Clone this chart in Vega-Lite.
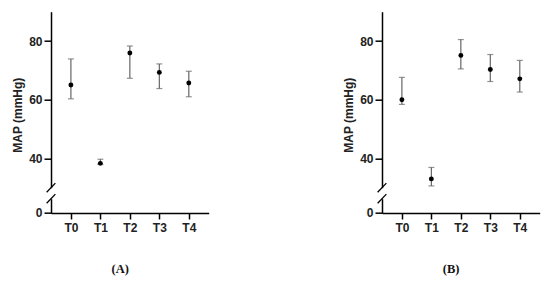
{
  "$schema": "https://vega.github.io/schema/vega-lite/v6.json",
  "padding": {"left": 11, "top": 11.7, "right": 5, "bottom": 5},
  "background": "white",
  "datasets": {
    "A": [
      {"time": "T0", "mean": 65.0, "lo": 60.3, "hi": 73.9},
      {"time": "T1", "mean": 38.3, "lo": 37.9, "hi": 39.7},
      {"time": "T2", "mean": 75.9, "lo": 67.3, "hi": 78.3},
      {"time": "T3", "mean": 69.3, "lo": 63.8, "hi": 72.2},
      {"time": "T4", "mean": 65.7, "lo": 61.0, "hi": 69.7}
    ],
    "B": [
      {"time": "T0", "mean": 60.0, "lo": 58.4, "hi": 67.6},
      {"time": "T1", "mean": 33.0, "lo": 30.6, "hi": 36.9},
      {"time": "T2", "mean": 75.1, "lo": 70.5, "hi": 80.5},
      {"time": "T3", "mean": 70.3, "lo": 66.2, "hi": 75.4},
      {"time": "T4", "mean": 67.1, "lo": 62.6, "hi": 73.4}
    ],
    "brkTop": [{"bx": 0, "by": 30}],
    "brkBot": [{"bx": 0, "by": 5}]
  },
  "config": {
    "view": {"stroke": null},
    "axis": {
      "grid": false,
      "domainColor": "#000",
      "domainWidth": 1.5,
      "tickColor": "#000",
      "tickWidth": 1.5,
      "tickSize": 7,
      "labelPadding": 2,
      "labelFont": "Liberation Sans",
      "labelFontWeight": "bold",
      "labelFontSize": 12,
      "labelColor": "#222",
      "titleFont": "Liberation Sans",
      "titleFontWeight": "bold",
      "titleFontSize": 12,
      "titleColor": "#222"
    }
  },
  "spacing": 133,
  "hconcat": [
    {
      "title": {"text": "(A)", "orient": "bottom", "font": "Liberation Serif", "fontSize": 12.5, "fontWeight": "bold", "color": "#111", "anchor": "middle", "dx": 10, "offset": 29},
      "spacing": 11,
      "bounds": "flush",
      "vconcat": [
        {
          "width": 157.7,
          "height": 176,
          "resolve": {"scale": {"x": "independent"}},
          "layer": [
            {
              "data": {"name": "A"},
              "layer": [
                {"mark": {"type": "rule", "color": "#666", "strokeWidth": 1.2},
                 "encoding": {"y": {"field": "lo", "type": "quantitative"}, "y2": {"field": "hi"}}},
                {"mark": {"type": "tick", "orient": "horizontal", "size": 6, "thickness": 1.2, "color": "#666"},
                 "encoding": {"y": {"field": "hi", "type": "quantitative"}}},
                {"mark": {"type": "tick", "orient": "horizontal", "size": 6, "thickness": 1.2, "color": "#666"},
                 "encoding": {"y": {"field": "lo", "type": "quantitative"}}},
                {"mark": {"type": "point", "filled": true, "size": 24, "color": "#000", "opacity": 1},
                 "encoding": {"y": {"field": "mean", "type": "quantitative"}}}
              ],
              "encoding": {
                "x": {"field": "time", "type": "ordinal", "scale": {"type": "point", "padding": 0.675}, "axis": null},
                "y": {"type": "quantitative", "scale": {"domain": [30, 90]},
                      "axis": {"values": [40, 60, 80], "title": "MAP (mmHg)", "titleY": 103}}
              }
            },
            {
              "data": {"name": "brkTop"},
              "mark": {"type": "point", "shape": "M-1,1.05L1,-1.05", "size": 76, "stroke": "#000", "strokeWidth": 1.3, "filled": false, "opacity": 1},
              "encoding": {
                "x": {"field": "bx", "type": "quantitative", "scale": {"domain": [0, 1]}, "axis": null},
                "y": {"field": "by", "type": "quantitative"}
              }
            }
          ]
        },
        {
          "width": 157.7,
          "height": 14.3,
          "resolve": {"scale": {"x": "independent"}},
          "layer": [
            {
              "data": {"name": "A"},
              "mark": {"type": "point", "opacity": 0},
              "encoding": {
                "x": {"field": "time", "type": "ordinal", "scale": {"type": "point", "padding": 0.675},
                      "axis": {"title": null, "labelAngle": 0, "tickSize": 6, "labelPadding": 4}},
                "y": {"datum": 0, "type": "quantitative", "scale": {"domain": [0, 5]},
                      "axis": {"values": [0], "title": null}}
              }
            },
            {
              "data": {"name": "brkBot"},
              "mark": {"type": "point", "shape": "M-1,1.05L1,-1.05", "size": 76, "stroke": "#000", "strokeWidth": 1.3, "filled": false, "opacity": 1},
              "encoding": {
                "x": {"field": "bx", "type": "quantitative", "scale": {"domain": [0, 1]}, "axis": null},
                "y": {"field": "by", "type": "quantitative"}
              }
            }
          ]
        }
      ]
    },
    {
      "title": {"text": "(B)", "orient": "bottom", "font": "Liberation Serif", "fontSize": 12.5, "fontWeight": "bold", "color": "#111", "anchor": "middle", "dx": 10, "offset": 29},
      "spacing": 11,
      "bounds": "flush",
      "vconcat": [
        {
          "width": 157.7,
          "height": 176,
          "resolve": {"scale": {"x": "independent"}},
          "layer": [
            {
              "data": {"name": "B"},
              "layer": [
                {"mark": {"type": "rule", "color": "#666", "strokeWidth": 1.2},
                 "encoding": {"y": {"field": "lo", "type": "quantitative"}, "y2": {"field": "hi"}}},
                {"mark": {"type": "tick", "orient": "horizontal", "size": 6, "thickness": 1.2, "color": "#666"},
                 "encoding": {"y": {"field": "hi", "type": "quantitative"}}},
                {"mark": {"type": "tick", "orient": "horizontal", "size": 6, "thickness": 1.2, "color": "#666"},
                 "encoding": {"y": {"field": "lo", "type": "quantitative"}}},
                {"mark": {"type": "point", "filled": true, "size": 24, "color": "#000", "opacity": 1},
                 "encoding": {"y": {"field": "mean", "type": "quantitative"}}}
              ],
              "encoding": {
                "x": {"field": "time", "type": "ordinal", "scale": {"type": "point", "padding": 0.675}, "axis": null},
                "y": {"type": "quantitative", "scale": {"domain": [30, 90]},
                      "axis": {"values": [40, 60, 80], "title": "MAP (mmHg)", "titleY": 103}}
              }
            },
            {
              "data": {"name": "brkTop"},
              "mark": {"type": "point", "shape": "M-1,1.05L1,-1.05", "size": 76, "stroke": "#000", "strokeWidth": 1.3, "filled": false, "opacity": 1},
              "encoding": {
                "x": {"field": "bx", "type": "quantitative", "scale": {"domain": [0, 1]}, "axis": null},
                "y": {"field": "by", "type": "quantitative"}
              }
            }
          ]
        },
        {
          "width": 157.7,
          "height": 14.3,
          "resolve": {"scale": {"x": "independent"}},
          "layer": [
            {
              "data": {"name": "B"},
              "mark": {"type": "point", "opacity": 0},
              "encoding": {
                "x": {"field": "time", "type": "ordinal", "scale": {"type": "point", "padding": 0.675},
                      "axis": {"title": null, "labelAngle": 0, "tickSize": 6, "labelPadding": 4}},
                "y": {"datum": 0, "type": "quantitative", "scale": {"domain": [0, 5]},
                      "axis": {"values": [0], "title": null}}
              }
            },
            {
              "data": {"name": "brkBot"},
              "mark": {"type": "point", "shape": "M-1,1.05L1,-1.05", "size": 76, "stroke": "#000", "strokeWidth": 1.3, "filled": false, "opacity": 1},
              "encoding": {
                "x": {"field": "bx", "type": "quantitative", "scale": {"domain": [0, 1]}, "axis": null},
                "y": {"field": "by", "type": "quantitative"}
              }
            }
          ]
        }
      ]
    }
  ]
}
